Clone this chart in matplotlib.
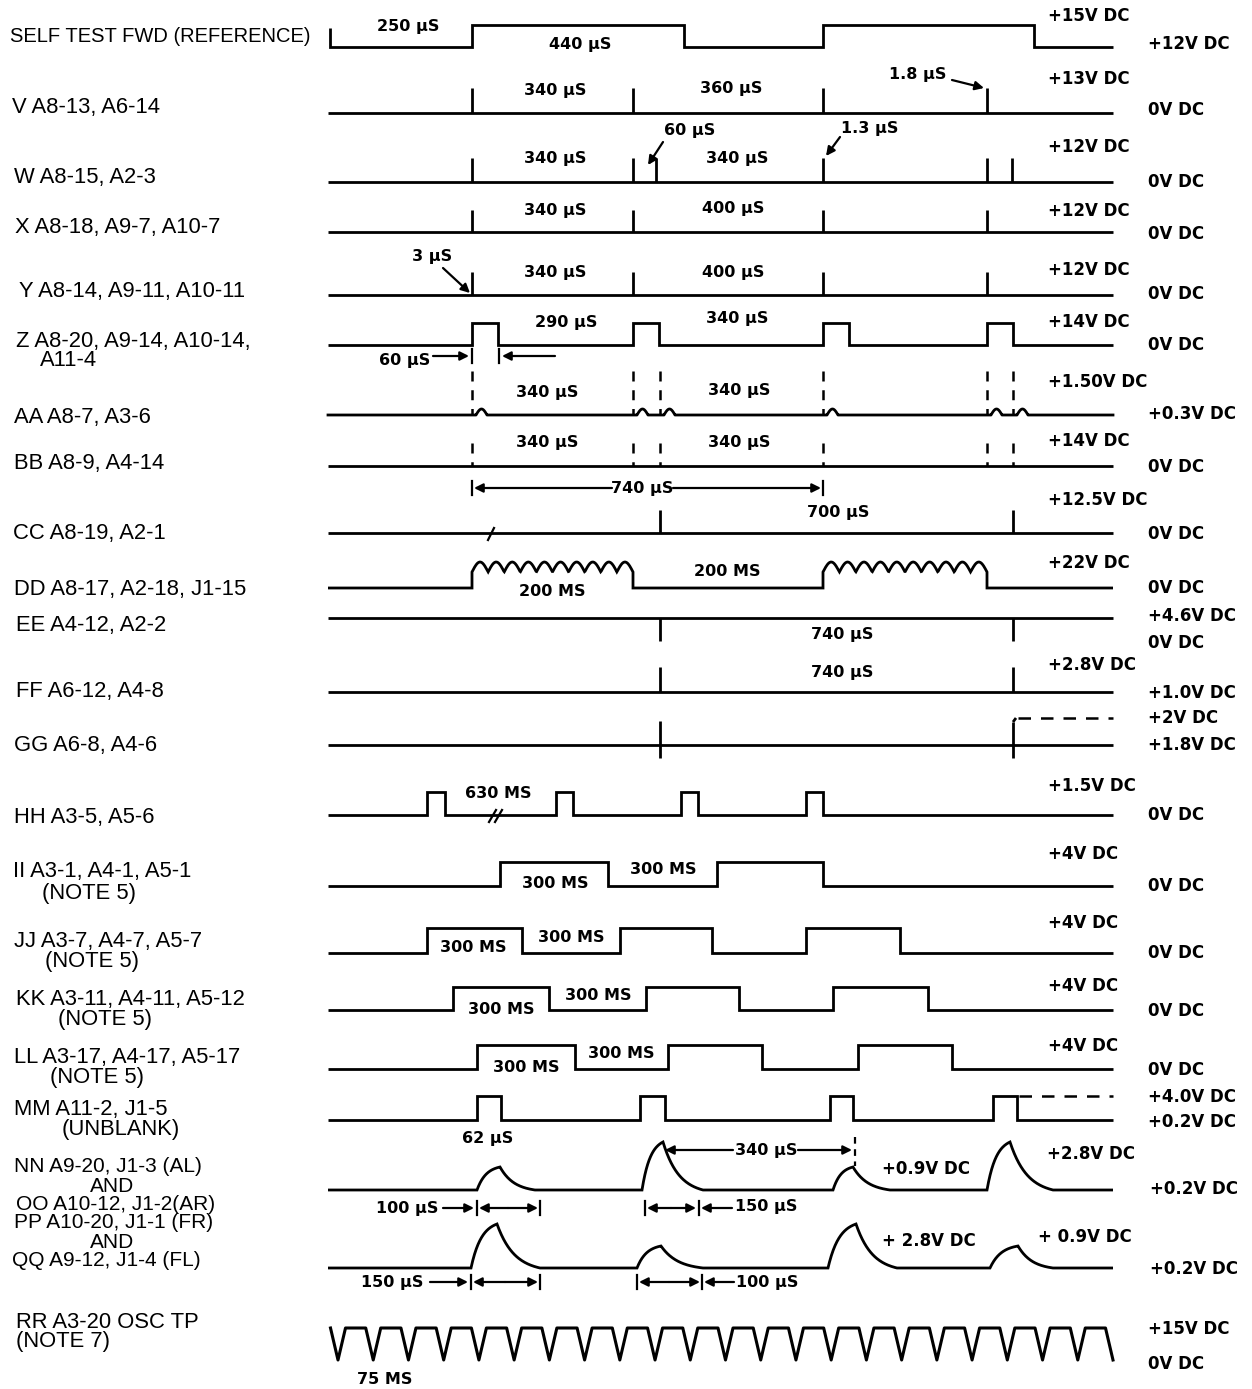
import numpy as np
import matplotlib
matplotlib.use('Agg')
import matplotlib.pyplot as plt

plt.rcParams['font.family'] = ['Liberation Sans', 'DejaVu Sans']

# ---------------- data (edge times on the common time scale) ----------------
self_test_edges = [472, 684, 823, 1034]          # starts low
v_spikes = [472, 633, 823, 987]
w_spikes = [472, 633, 656, 823, 987, 1012]
x_spikes = [472, 633, 823, 987]
y_spikes = [472, 633, 823, 987]
z_edges = [472, 498, 633, 659, 823, 849, 987, 1013]
aa_marks = [472, 633, 660, 823, 987, 1013]
bb_marks = [472, 633, 660, 823, 987, 1013]
cc_spikes = [660, 1013]
dd_edges = [472, 633, 823, 987]
dd_ripples = 10
ee_spikes = [660, 1013]
ff_spikes = [660, 1013]
gg_marks = [660, 1013]
hh_edges = [427, 445, 556, 573, 681, 698, 806, 823]
ii_edges = [500, 608, 717, 823]
jj_edges = [427, 522, 620, 712, 806, 900]
kk_edges = [453, 549, 646, 739, 833, 928]
ll_edges = [477, 575, 668, 762, 858, 952]
mm_edges = [477, 501, 640, 665, 830, 853, 993, 1017]
# peaks: (start, peak, end, level)
nn_peaks = [(477, 500, 535, 'lo'), (642, 663, 703, 'hi'), (833, 853, 890, 'lo'), (987, 1010, 1053, 'hi')]
pp_peaks = [(471, 497, 540, 'hi'), (637, 661, 703, 'lo'), (828, 856, 897, 'hi'), (990, 1018, 1053, 'lo')]
rr_cycles = 22

left_labels = [
    ("V A8-13, A6-14", 12, 107),
    ("W A8-15, A2-3", 14, 178),
    ("X A8-18, A9-7, A10-7", 15, 228),
    ("Y A8-14, A9-11, A10-11", 19, 291),
    ("Z A8-20, A9-14, A10-14,", 16, 342),
    ("A11-4", 40, 361),
    ("AA A8-7, A3-6", 14, 418),
    ("BB A8-9, A4-14", 14, 464),
    ("CC A8-19, A2-1", 13, 534),
    ("DD A8-17, A2-18, J1-15", 14, 590),
    ("EE A4-12, A2-2", 16, 625),
    ("FF A6-12, A4-8", 16, 692),
    ("GG A6-8, A4-6", 14, 746),
    ("HH A3-5, A5-6", 14, 818),
    ("II A3-1, A4-1, A5-1", 13, 872),
    ("(NOTE 5)", 42, 893),
    ("JJ A3-7, A4-7, A5-7", 14, 942),
    ("(NOTE 5)", 45, 962),
    ("KK A3-11, A4-11, A5-12", 16, 1000),
    ("(NOTE 5)", 58, 1020),
    ("LL A3-17, A4-17, A5-17", 14, 1057),
    ("(NOTE 5)", 50, 1077),
    ("MM A11-2, J1-5", 14, 1110),
    ("(UNBLANK)", 62, 1130),
    ("RR A3-20 OSC TP", 16, 1323),
    ("(NOTE 7)", 16, 1342),
]
tight_labels = [
    ("NN A9-20, J1-3 (AL)", 14, 1165),
    ("AND", 90, 1184),
    ("OO A10-12, J1-2(AR)", 16, 1202),
    ("PP A10-20, J1-1 (FR)", 14, 1221),
    ("AND", 90, 1240),
    ("QQ A9-12, J1-4 (FL)", 12, 1258),
]
title_label = ("SELF TEST FWD (REFERENCE)", 10, 37)

level_labels = [
    ("+15V DC", 1048, 16), ("+12V DC", 1148, 44),
    ("+13V DC", 1048, 79), ("0V DC", 1148, 110),
    ("+12V DC", 1048, 147), ("0V DC", 1148, 182),
    ("+12V DC", 1048, 211), ("0V DC", 1148, 234),
    ("+12V DC", 1048, 270), ("0V DC", 1148, 294),
    ("+14V DC", 1048, 322), ("0V DC", 1148, 345),
    ("+1.50V DC", 1048, 382), ("+0.3V DC", 1148, 414),
    ("+14V DC", 1048, 441), ("0V DC", 1148, 467),
    ("+12.5V DC", 1048, 500), ("0V DC", 1148, 534),
    ("+22V DC", 1048, 563), ("0V DC", 1148, 588),
    ("+4.6V DC", 1148, 616), ("0V DC", 1148, 643),
    ("+2.8V DC", 1048, 665), ("+1.0V DC", 1148, 693),
    ("+2V DC", 1148, 718), ("+1.8V DC", 1148, 745),
    ("+1.5V DC", 1048, 786), ("0V DC", 1148, 815),
    ("+4V DC", 1048, 854), ("0V DC", 1148, 886),
    ("+4V DC", 1048, 923), ("0V DC", 1148, 953),
    ("+4V DC", 1048, 986), ("0V DC", 1148, 1011),
    ("+4V DC", 1048, 1046), ("0V DC", 1148, 1070),
    ("+4.0V DC", 1148, 1097), ("+0.2V DC", 1148, 1122),
    ("+0.9V DC", 882, 1169), ("+2.8V DC", 1047, 1154), ("+0.2V DC", 1150, 1189),
    ("+ 2.8V DC", 882, 1241), ("+ 0.9V DC", 1038, 1237), ("+0.2V DC", 1150, 1269),
    ("+15V DC", 1148, 1329), ("0V DC", 1148, 1364),
]

interval_labels = [
    ("250 μS", 408, 27), ("440 μS", 580, 45),
    ("340 μS", 555, 90), ("360 μS", 731, 88), ("1.8 μS", 918, 74),
    ("60 μS", 690, 131), ("340 μS", 555, 158), ("340 μS", 737, 158), ("1.3 μS", 870, 128),
    ("340 μS", 555, 211), ("400 μS", 733, 208),
    ("3 μS", 432, 257), ("340 μS", 555, 272), ("400 μS", 733, 272),
    ("290 μS", 566, 323), ("340 μS", 737, 318), ("60 μS", 405, 361),
    ("340 μS", 547, 392), ("340 μS", 739, 390),
    ("340 μS", 547, 443), ("340 μS", 739, 442),
    ("740 μS", 642, 489), ("700 μS", 838, 513),
    ("200 MS", 552, 591), ("200 MS", 727, 572),
    ("740 μS", 842, 635), ("740 μS", 842, 672),
    ("630 MS", 498, 793),
    ("300 MS", 555, 883), ("300 MS", 663, 870),
    ("300 MS", 473, 947), ("300 MS", 571, 938),
    ("300 MS", 501, 1009), ("300 MS", 598, 995),
    ("300 MS", 526, 1067), ("300 MS", 621, 1054),
    ("62 μS", 488, 1138),
    ("100 μS", 407, 1208), ("340 μS", 766, 1150), ("150 μS", 766, 1207),
    ("150 μS", 392, 1283), ("100 μS", 767, 1283),
    ("75 MS", 385, 1379),
]

# ---------------- layout ----------------
W, H = 1252, 1389
T0, T1 = 328, 1113
LW = 2.0
fig = plt.figure(figsize=(W / 100, H / 100), dpi=100)
ax = fig.add_axes([0, 0, 1, 1])
ax.set_xlim(0, W)
ax.set_ylim(H, 0)
ax.axis('off')

K = dict(color='black', lw=LW, solid_joinstyle='miter', solid_capstyle='butt')


def square(edges, base, high, start_high=False, x0=T0, x1=T1, lead=None):
    xs, ys = [x0], [high if start_high else base]
    if lead is not None:
        xs, ys = [x0] + xs, [lead] + ys
    lvl = start_high
    for e in edges:
        xs += [e, e]
        ys += [high if lvl else base, base if lvl else high]
        lvl = not lvl
    xs.append(x1)
    ys.append(high if lvl else base)
    ax.plot(xs, ys, **K)


def spikes(xs, base, top):
    ax.plot([T0, T1], [base, base], **K)
    for x in xs:
        ax.plot([x, x], [base, top], **K)


def arrow(x0, y0, x1, y1, style='-|>'):
    ax.annotate('', xy=(x1, y1), xytext=(x0, y0),
                arrowprops=dict(arrowstyle=style, color='black', lw=1.6,
                                mutation_scale=13, shrinkA=0, shrinkB=0))


def tick(x, yc, h=7):
    ax.plot([x, x], [yc - h, yc + h], color='black', lw=1.6)


# SELF TEST
square(self_test_edges, 47, 25, x0=330, lead=28)
# V, W, X, Y
spikes(v_spikes, 113, 88)
spikes(w_spikes, 182, 158)
spikes(x_spikes, 232, 210)
spikes(y_spikes, 295, 272)
# Z
square(z_edges, 345, 323)
# AA
base = 415
xs, ys = [T0], [base]
for x in aa_marks:
    t = np.linspace(0, 1, 20)
    xs += list(x + 4 + 11 * t)
    ys += list(base - 6 * np.sin(np.pi * t))
xs.append(T1)
ys.append(base)
ax.plot(xs, ys, color='black', lw=LW)
for x in aa_marks:
    ax.plot([x, x], [371, base - 1], color='black', lw=1.8, dashes=(4, 3.5))
# BB
ax.plot([T0, T1], [466, 466], **K)
for x in bb_marks:
    ax.plot([x, x], [443, 466], color='black', lw=1.8, dashes=(4, 3.5))
# CC
spikes(cc_spikes, 533, 510)
ax.plot([488, 494], [540, 528], color='black', lw=1.6)
# DD
dd_base, dd_top, dd_cusp = 588, 562, 572
xs, ys = [T0], [dd_base]
for a, b in zip(dd_edges[0::2], dd_edges[1::2]):
    xs += [a, a]
    ys += [dd_base, dd_cusp]
    wx = np.linspace(a, b, 300)
    wy = dd_cusp - (dd_cusp - dd_top) * np.abs(np.sin(np.pi * dd_ripples * (wx - a) / (b - a)))
    xs += list(wx)
    ys += list(wy)
    xs += [b, b]
    ys += [dd_cusp, dd_base]
xs.append(T1)
ys.append(dd_base)
ax.plot(xs, ys, **K)
# EE (downward spikes)
spikes(ee_spikes, 618, 641)
# FF
spikes(ff_spikes, 692, 667)
# GG
ax.plot([T0, T1], [745, 745], **K)
ax.plot([gg_marks[0], gg_marks[0]], [721, 758], **K)
ax.plot([gg_marks[1], gg_marks[1]], [758, 722], **K)
ax.plot([gg_marks[1], gg_marks[1] + 3], [722, 718], **K)
ax.plot([gg_marks[1] + 5, T1], [718, 718], color='black', lw=1.8, dashes=(5, 4))
# HH
square(hh_edges, 815, 792)
for dx in (0, 6):
    ax.plot([489 + dx, 496 + dx], [822, 810], color='black', lw=1.6)
# II, JJ, KK, LL
square(ii_edges, 886, 862)
square(jj_edges, 953, 928)
square(kk_edges, 1010, 987)
square(ll_edges, 1069, 1045)
# MM
square(mm_edges, 1120, 1096)
ax.plot([mm_edges[-1] + 2, T1], [1096, 1096], color='black', lw=1.8, dashes=(5, 4))


def peaks(plist, base, heights):
    xs, ys = [T0], [base]
    k = 2.5
    for s, p, e, lv in plist:
        h = heights[lv]
        u = np.linspace(0, 1, 60)
        xs += list(s + (p - s) * u)
        ys += list(base - h * (1 - np.exp(-k * u)) / (1 - np.exp(-k)))
        xs += list(p + (e - p) * u)
        ys += list(base - h * (np.exp(-k * u) - np.exp(-k)) / (1 - np.exp(-k)))
    xs.append(T1)
    ys.append(base)
    ax.plot(xs, ys, **K)


peaks(nn_peaks, 1190, {'hi': 48, 'lo': 23})
peaks(pp_peaks, 1268, {'hi': 44, 'lo': 22})

# RR oscillator
top, bot = 1328, 1360
first_bottom, half_w = 338, 7.5
period = (T1 - first_bottom) / (rr_cycles + 0.0)
xs, ys = [], []
for i in range(rr_cycles):
    b = first_bottom + i * period
    xs += [b - half_w, b, b + half_w]
    ys += [top, bot, top]
xs += [T1 - half_w, T1]
ys += [top, bot]
ax.plot(xs, ys, color='black', lw=2.2, solid_joinstyle='round')

# ---------------- annotations ----------------
arrow(952, 80, 984, 88)            # 1.8 uS
arrow(663, 142, 648, 165)          # 60 uS
arrow(840, 137, 826, 156)          # 1.3 uS
arrow(443, 268, 470, 293)          # 3 uS
# 60 uS width of Z pulse
arrow(433, 356, 469, 356)
tick(472, 356)
tick(499, 356)
arrow(555, 356, 502, 356)
# 740 uS
tick(472, 488)
arrow(612, 488, 474, 488)
arrow(673, 488, 821, 488)
tick(823, 488)
# NN 340 uS
arrow(733, 1150, 665, 1150)
arrow(798, 1150, 852, 1150)
ax.plot([855, 855], [1137, 1166], color='black', lw=1.6, dashes=(3, 2.5))
# NN dims
yd = 1208
arrow(443, yd, 474, yd)
tick(477, yd)
arrow(508, yd, 479, yd)
arrow(508, yd, 538, yd)
tick(540, yd)
tick(645, yd)
arrow(671, yd, 647, yd)
arrow(671, yd, 696, yd)
tick(699, yd)
arrow(732, yd, 701, yd)
# PP dims
yd = 1282
arrow(430, yd, 468, yd)
tick(471, yd)
arrow(505, yd, 473, yd)
arrow(505, yd, 538, yd)
tick(540, yd)
tick(637, yd)
arrow(669, yd, 639, yd)
arrow(669, yd, 700, yd)
tick(702, yd)
arrow(734, yd, 704, yd)

# ---------------- text ----------------
s, x, y = title_label
ax.text(x, y, s, fontsize=14.5, family=['Liberation Sans'], ha='left', va='center')
for s, x, y in left_labels:
    ax.text(x, y, s, fontsize=15.8, family=['Liberation Sans'], ha='left', va='center')
for s, x, y in tight_labels:
    ax.text(x, y, s, fontsize=15, family=['Liberation Sans'], ha='left', va='center_baseline')
for s, x, y in level_labels:
    ax.text(x, y, s, fontsize=12, fontweight='bold', family=['DejaVu Sans'],
            ha='left', va='center')
for s, x, y in interval_labels:
    ax.text(x, y, s, fontsize=11.5, fontweight='bold', family=['DejaVu Sans'],
            ha='center', va='center')

fig.savefig('out.png', dpi=100)
